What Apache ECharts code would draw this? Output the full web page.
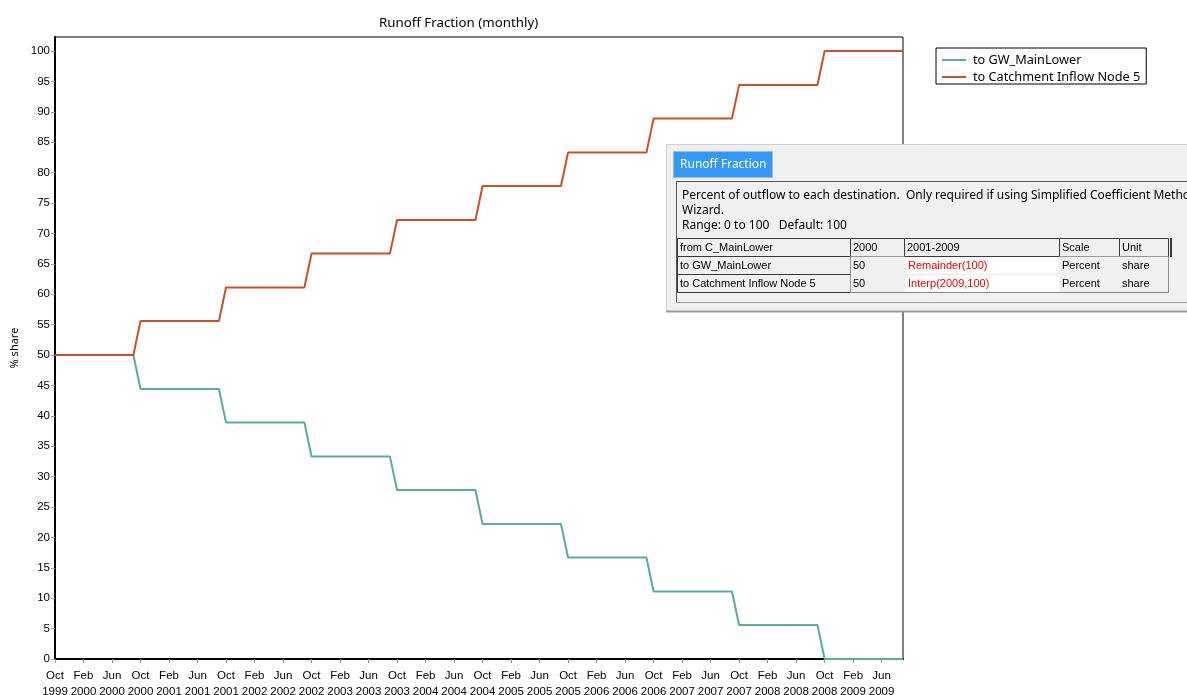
<!DOCTYPE html>
<html>
<head>
<meta charset="utf-8">
<script src="https://cdn.jsdelivr.net/npm/echarts@6/dist/echarts.min.js"></script>
<style>html,body{margin:0;padding:0;background:#fff}#c{width:1187px;height:695px}</style>
</head>
<body>
<div id="c"></div>
<script>
// Monthly categories, Oct 1999 .. Sep 2009
var categories = [
 'Oct 1999','Nov 1999','Dec 1999','Jan 2000','Feb 2000','Mar 2000','Apr 2000','May 2000','Jun 2000','Jul 2000','Aug 2000','Sep 2000',
 'Oct 2000','Nov 2000','Dec 2000','Jan 2001','Feb 2001','Mar 2001','Apr 2001','May 2001','Jun 2001','Jul 2001','Aug 2001','Sep 2001',
 'Oct 2001','Nov 2001','Dec 2001','Jan 2002','Feb 2002','Mar 2002','Apr 2002','May 2002','Jun 2002','Jul 2002','Aug 2002','Sep 2002',
 'Oct 2002','Nov 2002','Dec 2002','Jan 2003','Feb 2003','Mar 2003','Apr 2003','May 2003','Jun 2003','Jul 2003','Aug 2003','Sep 2003',
 'Oct 2003','Nov 2003','Dec 2003','Jan 2004','Feb 2004','Mar 2004','Apr 2004','May 2004','Jun 2004','Jul 2004','Aug 2004','Sep 2004',
 'Oct 2004','Nov 2004','Dec 2004','Jan 2005','Feb 2005','Mar 2005','Apr 2005','May 2005','Jun 2005','Jul 2005','Aug 2005','Sep 2005',
 'Oct 2005','Nov 2005','Dec 2005','Jan 2006','Feb 2006','Mar 2006','Apr 2006','May 2006','Jun 2006','Jul 2006','Aug 2006','Sep 2006',
 'Oct 2006','Nov 2006','Dec 2006','Jan 2007','Feb 2007','Mar 2007','Apr 2007','May 2007','Jun 2007','Jul 2007','Aug 2007','Sep 2007',
 'Oct 2007','Nov 2007','Dec 2007','Jan 2008','Feb 2008','Mar 2008','Apr 2008','May 2008','Jun 2008','Jul 2008','Aug 2008','Sep 2008',
 'Oct 2008','Nov 2008','Dec 2008','Jan 2009','Feb 2009','Mar 2009','Apr 2009','May 2009','Jun 2009','Jul 2009','Aug 2009','Sep 2009'
];

var gwMainLower = [
 50,50,50,50,50,50,50,50,50,50,50,50,
 44.4,44.4,44.4,44.4,44.4,44.4,44.4,44.4,44.4,44.4,44.4,44.4,
 38.9,38.9,38.9,38.9,38.9,38.9,38.9,38.9,38.9,38.9,38.9,38.9,
 33.3,33.3,33.3,33.3,33.3,33.3,33.3,33.3,33.3,33.3,33.3,33.3,
 27.8,27.8,27.8,27.8,27.8,27.8,27.8,27.8,27.8,27.8,27.8,27.8,
 22.2,22.2,22.2,22.2,22.2,22.2,22.2,22.2,22.2,22.2,22.2,22.2,
 16.7,16.7,16.7,16.7,16.7,16.7,16.7,16.7,16.7,16.7,16.7,16.7,
 11.1,11.1,11.1,11.1,11.1,11.1,11.1,11.1,11.1,11.1,11.1,11.1,
 5.6,5.6,5.6,5.6,5.6,5.6,5.6,5.6,5.6,5.6,5.6,5.6,
 0,0,0,0,0,0,0,0,0,0,0,0
];

var catchmentNode5 = [
 50,50,50,50,50,50,50,50,50,50,50,50,
 55.6,55.6,55.6,55.6,55.6,55.6,55.6,55.6,55.6,55.6,55.6,55.6,
 61.1,61.1,61.1,61.1,61.1,61.1,61.1,61.1,61.1,61.1,61.1,61.1,
 66.7,66.7,66.7,66.7,66.7,66.7,66.7,66.7,66.7,66.7,66.7,66.7,
 72.2,72.2,72.2,72.2,72.2,72.2,72.2,72.2,72.2,72.2,72.2,72.2,
 77.8,77.8,77.8,77.8,77.8,77.8,77.8,77.8,77.8,77.8,77.8,77.8,
 83.3,83.3,83.3,83.3,83.3,83.3,83.3,83.3,83.3,83.3,83.3,83.3,
 88.9,88.9,88.9,88.9,88.9,88.9,88.9,88.9,88.9,88.9,88.9,88.9,
 94.4,94.4,94.4,94.4,94.4,94.4,94.4,94.4,94.4,94.4,94.4,94.4,
 100,100,100,100,100,100,100,100,100,100,100,100
];

var yTicks = [0,5,10,15,20,25,30,35,40,45,50,55,60,65,70,75,80,85,90,95,100];
var seriesNames = ['to GW_MainLower', 'to Catchment Inflow Node 5'];

// Dialog overlay text
var dlgTab = 'Runoff Fraction';
var dlgLines = [
 'Percent of outflow to each destination.  Only required if using Simplified Coefficient Method in the Runoff/Infiltration',
 'Wizard.',
 'Range: 0 to 100   Default: 100'
];
var tblHeader = ['from C_MainLower', '2000', '2001-2009', 'Scale', 'Unit'];
var tblRows = [
 ['to GW_MainLower', '50', 'Remainder(100)', 'Percent', 'share'],
 ['to Catchment Inflow Node 5', '50', 'Interp(2009,100)', 'Percent', 'share']
];

// ---- dialog graphics ----
var colX = [677, 850, 904, 1059, 1119, 1168];
var rowY = [238, 256, 274, 292];
var g = [];
g.push({type:'rect', shape:{x:666.5,y:144.5,width:540,height:167}, style:{fill:'#f0f0f0', stroke:'#cfcfcf', lineWidth:1}, z:10});
g.push({type:'line', shape:{x1:666,y1:311.5,x2:1187,y2:311.5}, style:{stroke:'#9a9a9a', lineWidth:2}, z:11});
g.push({type:'rect', shape:{x:673.5,y:151.5,width:99,height:26}, style:{fill:'#3399ff', stroke:'#a6b8cc', lineWidth:1}, z:11});
g.push({type:'text', x:680, y:164.5, style:{text:dlgTab, fill:'#ffffff', font:'12px "Noto Sans"', verticalAlign:'middle'}, z:12});
g.push({type:'rect', shape:{x:676.5,y:181.5,width:530,height:121}, style:{fill:'#f0f0f0', stroke:'#a0a0a0', lineWidth:1}, z:11});
g.push({type:'polyline', shape:{points:[[676.5,302],[676.5,181.5],[1187,181.5]]}, style:{stroke:'#555', lineWidth:1, fill:null}, z:12});
for (var i = 0; i < dlgLines.length; i++) {
  g.push({type:'text', x:682, y:196 + i*15, style:{text:dlgLines[i], fill:'#000', font:'12px "Noto Sans"', verticalAlign:'middle'}, z:12});
}
function cell(x1, x2, y1, y2, txt, fill, stroke, color) {
  g.push({type:'rect', shape:{x:x1+0.5,y:y1+0.5,width:x2-x1,height:y2-y1}, style:{fill:fill, stroke:stroke, lineWidth:stroke ? 1 : 0}, z:12});
  g.push({type:'text', x:x1+3, y:(y1+y2)/2+0.5, style:{text:txt, fill:color || '#000', font:'11px "Liberation Sans"', verticalAlign:'middle'}, z:13});
}
for (var c = 0; c < tblHeader.length; c++) {
  cell(colX[c], colX[c+1], rowY[0], rowY[1], tblHeader[c], '#f0f0f0', '#3a3a3a');
}
g.push({type:'line', shape:{x1:1171,y1:238,x2:1171,y2:257}, style:{stroke:'#3a3a3a', lineWidth:2}, z:13});
for (var r = 0; r < tblRows.length; r++) {
  var y1 = rowY[r+1], y2 = rowY[r+2];
  cell(colX[0], colX[1], y1, y2, tblRows[r][0], '#f0f0f0', '#3a3a3a');
  cell(colX[1], colX[2], y1, y2, tblRows[r][1], '#f0f0f0', null);
  cell(colX[2]+1, colX[3], y1+1, y2-1, tblRows[r][2], '#ffffff', null, '#ff0000');
  cell(colX[3], colX[4], y1, y2, tblRows[r][3], '#f0f0f0', null);
  cell(colX[4], colX[5], y1, y2, tblRows[r][4], '#f0f0f0', null);
}
g.push({type:'line', shape:{x1:1168.5,y1:256,x2:1168.5,y2:293}, style:{stroke:'#8a8a8a', lineWidth:1}, z:13});
g.push({type:'line', shape:{x1:850,y1:292.5,x2:1169,y2:292.5}, style:{stroke:'#8a8a8a', lineWidth:1}, z:13});

var chart = echarts.init(document.getElementById('c'), null, {renderer:'canvas'});
chart.setOption({
  animation: false,
  backgroundColor: '#fff',
  title: {
    text: 'Runoff Fraction (monthly)',
    left: 374, top: 12,
    textStyle: {fontFamily:'Noto Sans', fontSize:13.3, fontWeight:'normal', color:'#000'}
  },
  legend: {
    data: seriesNames,
    orient: 'vertical',
    left: 936, top: 48,
    icon: 'rect',
    itemWidth: 24, itemHeight: 2,
    itemGap: 3,
    padding: [5, 6, 0, 6],
    borderColor: '#000', borderWidth: 1,
    textStyle: {fontFamily:'Noto Sans', fontSize:12.7, lineHeight:14, color:'#000', padding:[0,0,0,2]}
  },
  grid: {
    left: 55, right: 284, top: 37, bottom: 36,
    outerBoundsMode: 'none',
    containLabel: false,
    show: true, borderColor: '#000', borderWidth: 1, backgroundColor: 'transparent'
  },
  xAxis: {
    type: 'category',
    data: categories,
    boundaryGap: false,
    axisLine: {lineStyle: {color:'#000', width:2}},
    axisTick: {show:true, interval:3, length:4, lineStyle:{color:'#999'}},
    axisLabel: {
      interval: 3, margin: 9,
      fontFamily: 'Liberation Sans', fontSize: 11.5, color: '#000', lineHeight: 16,
      formatter: function (v) { return v.replace(' ', '\n'); }
    },
    splitLine: {show:false}
  },
  yAxis: {
    type: 'value',
    min: 0, max: 102.3,
    name: '% share',
    nameLocation: 'middle', nameGap: 33, nameRotate: 90,
    nameTextStyle: {fontFamily:'Noto Sans', fontSize:11, color:'#000'},
    axisLine: {show:true, lineStyle:{color:'#000', width:2}},
    axisTick: {show:true, length:4, lineStyle:{color:'#999'}, customValues: yTicks},
    axisLabel: {margin:5, fontFamily:'Liberation Sans', fontSize:11.5, color:'#000', customValues: yTicks},
    splitLine: {show:false}
  },
  series: [
    {name: seriesNames[0], type:'line', data: gwMainLower, showSymbol:false, symbol:'none',
     lineStyle:{width:2, color:'#5aaaa2'}, itemStyle:{color:'#5aaaa2'}, z:3},
    {name: seriesNames[1], type:'line', data: catchmentNode5, showSymbol:false, symbol:'none',
     lineStyle:{width:2, color:'#c9512b'}, itemStyle:{color:'#c9512b'}, z:3}
  ],
  graphic: g
});
</script>
</body>
</html>
